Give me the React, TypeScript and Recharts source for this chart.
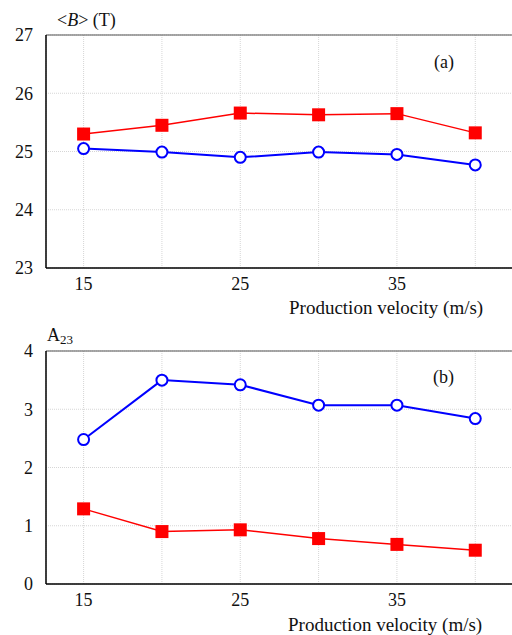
import { LineChart, Line, XAxis, YAxis, CartesianGrid, ReferenceLine } from "recharts";

const velocity = [15, 20, 25, 30, 35, 40];
const xTicks = [15, 20, 25, 30, 35, 40];

// panel (a): <B> (T)
const bRed = [25.3, 25.45, 25.66, 25.63, 25.65, 25.32];
const bBlue = [25.05, 24.99, 24.9, 24.99, 24.95, 24.77];
const bTicks = [23, 24, 25, 26, 27];

// panel (b): A23
const aBlue = [2.48, 3.5, 3.42, 3.07, 3.07, 2.84];
const aRed = [1.29, 0.9, 0.93, 0.78, 0.68, 0.58];
const aTicks = [0, 1, 2, 3, 4];

const FONT = "'Liberation Serif', 'Times New Roman', serif";
const RED = "#ff0000";
const BLUE = "#0000ff";

const dataA = velocity.map((v, i) => ({ v, red: bRed[i], blue: bBlue[i] }));
const dataB = velocity.map((v, i) => ({ v, red: aRed[i], blue: aBlue[i] }));

const Square = (props: any) => {
  const { cx, cy, index } = props;
  if (cx == null || cy == null) return <g key={index} />;
  return <rect key={index} x={cx - 6.5} y={cy - 6.5} width={13} height={13} fill={RED} />;
};

const tickStyle = { fontSize: 18, fill: "#111", fontFamily: FONT };

function Panel({ data, domain, ticks, top, height, xHeight }: any) {
  return (
    <LineChart width={516} height={height} data={data} margin={{ top, right: 0, left: 0, bottom: 0 }}>
      <CartesianGrid stroke="#d6d6d6" strokeDasharray="1 1" />
      <XAxis
        dataKey="v"
        type="number"
        domain={[12.6, 42.6]}
        ticks={xTicks}
        tickFormatter={(v) => (v % 10 === 5 ? String(v) : "")}
        tickLine={false}
        tickSize={0}
        tickMargin={9}
        height={xHeight}
        axisLine={{ stroke: "#000", strokeWidth: 1.5 }}
        tick={tickStyle}
        interval={0}
      />
      <YAxis
        domain={domain}
        ticks={ticks}
        tickLine={false}
        tickSize={0}
        tickMargin={13}
        width={46}
        axisLine={{ stroke: "#000", strokeWidth: 1.5 }}
        tick={tickStyle}
        interval={0}
      />
      <ReferenceLine y={domain[1]} stroke="#555" strokeWidth={1.2} />
      <Line dataKey="red" stroke={RED} strokeWidth={1.5} dot={Square} isAnimationActive={false} />
      <Line
        dataKey="blue"
        stroke={BLUE}
        strokeWidth={2}
        dot={{ r: 5.5, fill: "#fff", stroke: BLUE, strokeWidth: 2 }}
        isAnimationActive={false}
      />
    </LineChart>
  );
}

const txt = (left: number, top: number, size = 18): any => ({
  position: "absolute",
  left,
  top,
  fontFamily: FONT,
  fontSize: size,
  color: "#111",
  lineHeight: "20px",
  whiteSpace: "nowrap",
});

export default function App() {
  return (
    <div style={{ position: "absolute", left: 0, top: 0, width: 512, height: 635, overflow: "hidden", background: "#fff" }}>
      <div style={{ position: "absolute", left: 0, top: 0 }}>
        <Panel data={dataA} domain={[23, 27]} ticks={bTicks} top={35} height={320} xHeight={52} />
      </div>
      <div style={{ position: "absolute", left: 0, top: 320 }}>
        <Panel data={dataB} domain={[0, 4]} ticks={aTicks} top={31} height={315} xHeight={51} />
      </div>
      <div style={txt(57, 10)}>
        &lt;<i>B</i>&gt; (T)
      </div>
      <div style={txt(434, 52)}>(a)</div>
      <div style={txt(289, 298, 19)}>Production velocity (m/s)</div>
      <div style={txt(47, 325)}>
        A<sub style={{ fontSize: 13, verticalAlign: "-3px" }}>23</sub>
      </div>
      <div style={txt(433, 367)}>(b)</div>
      <div style={txt(288, 615, 19)}>Production velocity (m/s)</div>
    </div>
  );
}
